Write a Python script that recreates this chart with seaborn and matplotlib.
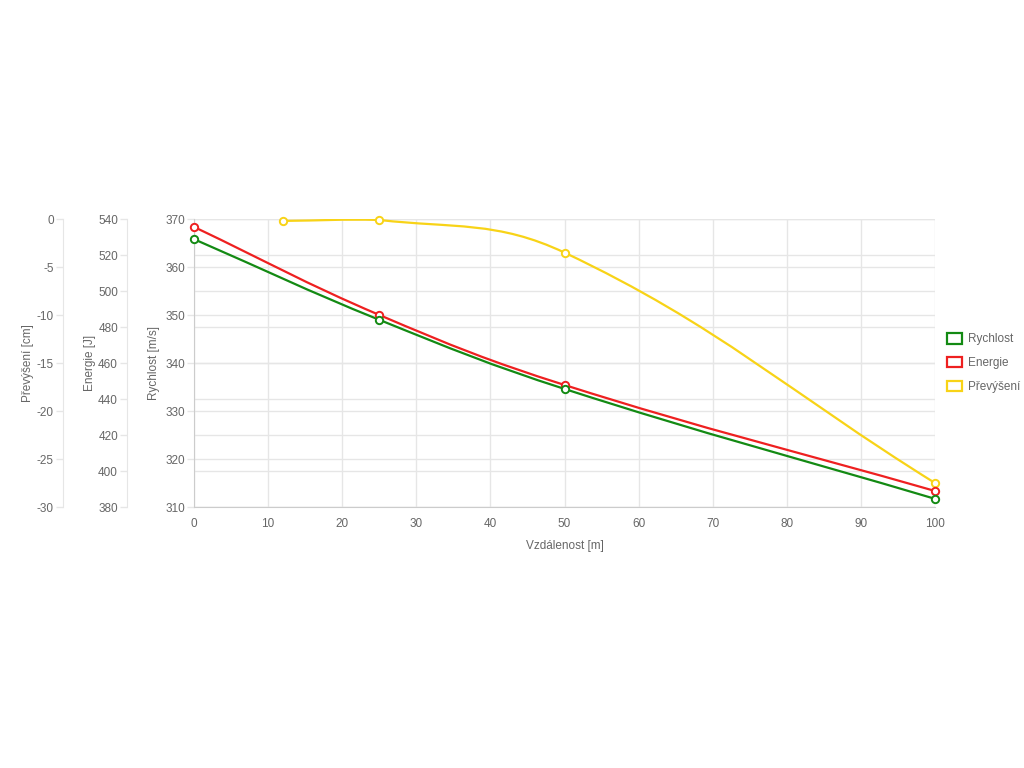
import numpy as np
import matplotlib
matplotlib.use('Agg')
import matplotlib.pyplot as plt
from matplotlib.path import Path
from matplotlib.patches import PathPatch, Patch
import seaborn as sns

# data
dist_v = [0, 25, 50, 100]
rychlost = [365.8, 349.0, 334.6, 311.7]
dist_e = [0, 25, 50, 100]
energie = [535.6, 486.7, 447.8, 388.9]
dist_p = [12, 25, 50, 100]
prevyseni = [-0.2, -0.1, -3.5, -27.5]

x_ticks = list(range(0, 101, 10))
v_ticks = list(range(310, 371, 10))
e_ticks = list(range(380, 541, 20))
p_ticks = list(range(-30, 1, 5))

sns.set_style('white')
plt.rcParams['font.family'] = ['Liberation Sans', 'DejaVu Sans']
plt.rcParams['font.size'] = 8.5
plt.rcParams['axes.unicode_minus'] = False

TXT = '#666666'
GRID = '#e6e6e6'
AXL = '#cccccc'
C_V, C_E, C_P = '#138a13', '#ee2020', '#f8d317'
FS = 8.5

fig = plt.figure(figsize=(10.24, 7.68), dpi=100)
pos = [194 / 1024, 1 - 507 / 768, (935 - 194) / 1024, 288 / 768]

# base axes = Energie (holds x axis and Energie grid)
ax_e = fig.add_axes(pos)
ax_v = ax_e.twinx()
ax_p = ax_e.twinx()

ax_e.set_xlim(0, 100)
ax_e.set_ylim(380, 540)
ax_v.set_ylim(310, 370)
ax_p.set_ylim(-30, 0)

ax_e.set_xticks(x_ticks)
ax_e.set_yticks(e_ticks)
ax_v.set_yticks(v_ticks)
ax_p.set_yticks(p_ticks)

ax_e.grid(True, color=GRID, lw=1)
ax_v.grid(True, axis='y', color=GRID, lw=1)
ax_v.grid(False, axis='x')
ax_p.grid(False)
ax_e.set_axisbelow(True)

for a in (ax_e, ax_v, ax_p):
    for s in a.spines.values():
        s.set_visible(False)
    a.yaxis.tick_left()
    a.yaxis.set_label_position('left')
    a.spines['left'].set_visible(True)
    a.spines['left'].set_color(AXL if a is ax_v else GRID)
    a.tick_params(axis='y', colors=TXT, length=5, width=1, pad=1.5, labelsize=FS)
    a.tick_params(axis='y', color=GRID)
    a.set_facecolor('none')

ax_e.spines['left'].set_position(('axes', (127 - 194) / 741))
ax_p.spines['left'].set_position(('axes', (63 - 194) / 741))
ax_e.spines['bottom'].set_visible(True)
ax_e.spines['bottom'].set_color(AXL)
ax_e.tick_params(axis='x', colors=TXT, color=GRID, length=5, pad=3, labelsize=FS)

ax_v.set_ylabel('Rychlost [m/s]', color=TXT, fontsize=FS)
ax_e.set_ylabel('Energie [J]', color=TXT, fontsize=FS)
ax_p.set_ylabel('Převýšení [cm]', color=TXT, fontsize=FS)
ax_v.yaxis.set_label_coords((160 - 194) / 741, 0.5)
ax_e.yaxis.set_label_coords((96 - 194) / 741, 0.5)
ax_p.yaxis.set_label_coords((34 - 194) / 741, 0.5)
ax_e.set_xlabel('Vzdálenost [m]', color=TXT, fontsize=FS, labelpad=7)


def spline_path(src, xs, ys, t=0.4):
    # chart.js style cubic curve, computed in pixel space
    pts = src.transData.transform(np.column_stack([xs, ys]))
    n = len(pts)
    cp_prev = pts.copy()
    cp_next = pts.copy()
    for i in range(n):
        p0 = pts[max(i - 1, 0)]
        p1 = pts[i]
        p2 = pts[min(i + 1, n - 1)]
        d01 = np.hypot(*(p1 - p0))
        d12 = np.hypot(*(p2 - p1))
        tot = d01 + d12
        s01 = d01 / tot if tot else 0
        s12 = d12 / tot if tot else 0
        cp_prev[i] = p1 - t * s01 * (p2 - p0)
        cp_next[i] = p1 + t * s12 * (p2 - p0)
    bb = src.bbox
    for cp in (cp_prev, cp_next):
        cp[:, 0] = np.clip(cp[:, 0], bb.x0, bb.x1)
        cp[:, 1] = np.clip(cp[:, 1], bb.y0, bb.y1)
    verts = [pts[0]]
    codes = [Path.MOVETO]
    for i in range(1, n):
        verts += [cp_next[i - 1], cp_prev[i], pts[i]]
        codes += [Path.CURVE4] * 3
    verts = src.transData.inverted().transform(np.array(verts))
    return Path(verts, codes)


series = [
    (ax_p, dist_p, prevyseni, C_P),
    (ax_e, dist_e, energie, C_E),
    (ax_v, dist_v, rychlost, C_V),
]
top = ax_p
for src, xs, ys, c in series:
    patch = PathPatch(spline_path(src, xs, ys), transform=src.transData,
                      facecolor='none', edgecolor=c, lw=1.6, zorder=3)
    top.add_patch(patch)
    sns.scatterplot(x=xs, y=ys, ax=top, transform=src.transData,
                    facecolor='white', edgecolor=c, linewidth=1.4, s=28,
                    zorder=4, clip_on=False)

ax_p.set_xlim(0, 100)
ax_p.set_ylim(-30, 0)

handles = [Patch(facecolor='white', edgecolor=c, lw=1.6, label=l)
           for l, c in [('Rychlost', C_V), ('Energie', C_E), ('Převýšení', C_P)]]
leg = fig.legend(handles=handles, loc='center left',
                 bbox_to_anchor=(942 / 1024, 1 - 363 / 768), frameon=False,
                 handlelength=1.3, handleheight=1.0, handletextpad=0.5,
                 labelspacing=0.98, fontsize=FS, borderaxespad=0)
for t in leg.get_texts():
    t.set_color(TXT)

fig.savefig('out.png', dpi=100)
